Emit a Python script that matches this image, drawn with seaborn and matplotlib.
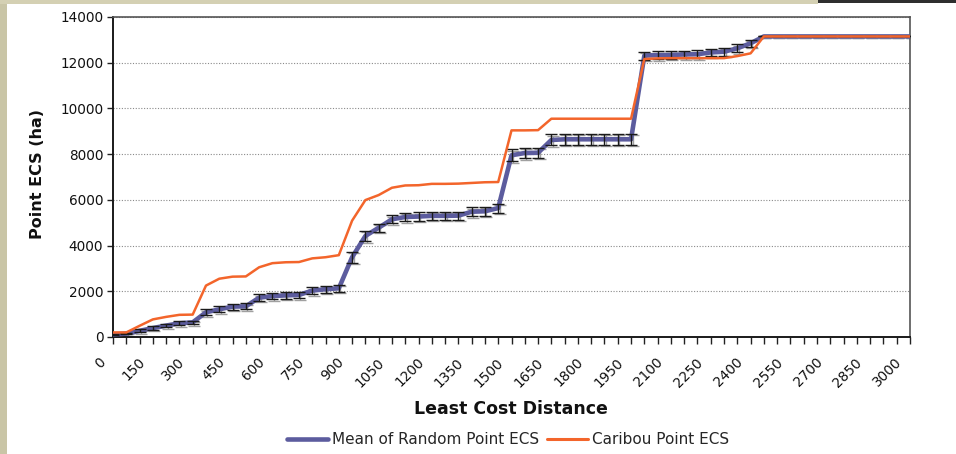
import matplotlib
matplotlib.use("Agg")
import matplotlib.pyplot as plt
import matplotlib.transforms as mtransforms
from matplotlib.patches import Rectangle
from matplotlib.lines import Line2D
import numpy as np
import pandas as pd
import seaborn as sns

# Least cost distance categories (every 50 units)
distance = list(range(0, 3050, 50))

mean_random_ecs = [
    110, 150, 270, 390, 500, 600, 640, 1080, 1210, 1330,
    1340, 1720, 1790, 1820, 1840, 2030, 2090, 2130, 3490, 4420,
    4780, 5150, 5250, 5270, 5300, 5300, 5310, 5480, 5500, 5640,
    7950, 8050, 8060, 8620, 8650, 8650, 8650, 8650, 8650, 8650,
    12310, 12330, 12340, 12360, 12370, 12450, 12480, 12630, 12850, 13150,
    13150, 13150, 13150, 13150, 13150, 13150, 13150, 13150, 13150, 13150,
    13150,
]

mean_random_err = [
    30, 40, 60, 70, 70, 80, 80, 130, 130, 130,
    130, 140, 140, 150, 150, 150, 150, 160, 250, 220,
    180, 180, 180, 180, 180, 180, 180, 190, 190, 200,
    260, 220, 220, 240, 240, 240, 240, 240, 240, 240,
    180, 170, 170, 170, 170, 170, 170, 170, 150, 0,
    0, 0, 0, 0, 0, 0, 0, 0, 0, 0,
    0,
]

caribou_ecs = [
    200, 200, 490, 770, 880, 970, 980, 2250, 2550, 2640,
    2650, 3050, 3230, 3270, 3280, 3440, 3490, 3580, 5090, 5990,
    6210, 6530, 6630, 6640, 6700, 6700, 6710, 6740, 6770, 6780,
    9040, 9040, 9050, 9550, 9550, 9550, 9550, 9550, 9550, 9550,
    12160, 12190, 12200, 12200, 12200, 12200, 12200, 12290, 12410, 13150,
    13150, 13150, 13150, 13150, 13150, 13150, 13150, 13150, 13150, 13150,
    13150,
]

y_ticks = [0, 2000, 4000, 6000, 8000, 10000, 12000, 14000]
x_labels = list(range(0, 3001, 150))

series_names = ["Mean of Random Point ECS", "Caribou Point ECS"]
blue = "#5c5c9e"
orange = "#f3652b"

df = pd.DataFrame({
    "distance": distance,
    "mean": mean_random_ecs,
    "err": mean_random_err,
    "caribou": caribou_ecs,
})

sns.set_theme(style="white")
plt.rcParams["font.family"] = ["DejaVu Sans"]

fig = plt.figure(figsize=(9.56, 4.54), dpi=100)
fig.patch.set_facecolor("white")

# slide frame strips
fig.patches.append(Rectangle((0, 0), 7 / 956, 1, transform=fig.transFigure,
                             facecolor="#c9c5a6", edgecolor="none", zorder=0))
fig.patches.append(Rectangle((0, 1 - 4 / 454), 818 / 956, 4 / 454, transform=fig.transFigure,
                             facecolor="#d4d0b3", edgecolor="none", zorder=0))
fig.patches.append(Rectangle((818 / 956, 1 - 3 / 454), 138 / 956, 3 / 454, transform=fig.transFigure,
                             facecolor="#2e2e2e", edgecolor="none", zorder=0))

ax = fig.add_axes([113 / 956, 1 - 337 / 454, 797 / 956, 320 / 454])
ax.set_facecolor("white")

# error bar shadow then error bars
shadow = mtransforms.offset_copy(ax.transData, fig=fig, x=1.5, y=-1.5, units="dots")
ax.errorbar(df["distance"], df["mean"], yerr=df["err"], fmt="none",
            ecolor="#a0a0a0", elinewidth=1.0, capsize=4.5, capthick=1.0,
            transform=shadow, zorder=2)
sns.lineplot(data=df, x="distance", y="mean", color=blue, linewidth=3.3,
             ax=ax, zorder=3, legend=False)
ax.errorbar(df["distance"], df["mean"], yerr=df["err"], fmt="none",
            ecolor="#1a1a1a", elinewidth=1.0, capsize=4.5, capthick=1.0, zorder=4)
sns.lineplot(data=df, x="distance", y="caribou", color=orange, linewidth=1.8,
             ax=ax, zorder=5, legend=False)

ax.set_xlim(0, 3000)
ax.set_ylim(0, 14000)
ax.set_yticks(y_ticks)
ax.set_yticklabels([str(v) for v in y_ticks], fontsize=9.8, color="#111111")
ax.set_xticks(distance, minor=True)
ax.set_xticks(x_labels)
ax.set_xticklabels([str(v) for v in x_labels], fontsize=9.8, color="#111111",
                   rotation=45, ha="right", va="top", rotation_mode="anchor")
ax.tick_params(axis="x", which="both", direction="out", length=5, width=1,
               color="#222222", pad=6, bottom=True)
ax.tick_params(axis="y", which="major", direction="out", length=4, width=1,
               color="#222222", pad=3, left=True)
ax.set_xlabel("")
ax.set_ylabel("")

ax.yaxis.grid(True, linestyle=(0, (1, 1.5)), color="#8a8a8a", linewidth=0.8)
ax.xaxis.grid(False)
ax.set_axisbelow(True)

for side in ["left", "bottom"]:
    ax.spines[side].set_color("#1a1a1a")
    ax.spines[side].set_linewidth(1.4)
for side in ["top", "right"]:
    ax.spines[side].set_color("#555555")
    ax.spines[side].set_linewidth(1.2)

# shift the rotated x labels to the lower left of their ticks
offset = mtransforms.ScaledTranslation(-15 / 100, -3 / 100, fig.dpi_scale_trans)
for lbl in ax.get_xticklabels():
    lbl.set_transform(lbl.get_transform() + offset)

fig.text(511 / 956, 1 - 409 / 454, "Least Cost Distance", ha="center", va="center",
         fontsize=12.5, fontweight="bold", color="#111111")
fig.text(37 / 956, 1 - 174 / 454, "Point ECS (ha)", ha="center", va="center",
         rotation=90, fontsize=11.5, fontweight="bold", color="#111111")

handles = [Line2D([], [], color=blue, linewidth=3.3),
           Line2D([], [], color=orange, linewidth=2.2)]
fig.legend(handles, series_names, loc="center", bbox_to_anchor=(508 / 956, 1 - 440 / 454),
           ncol=2, frameon=False, fontsize=11, handlelength=2.7, handletextpad=0.25,
           columnspacing=0.5, borderaxespad=0, borderpad=0)

fig.savefig("out.png", dpi=100, facecolor=fig.get_facecolor())
